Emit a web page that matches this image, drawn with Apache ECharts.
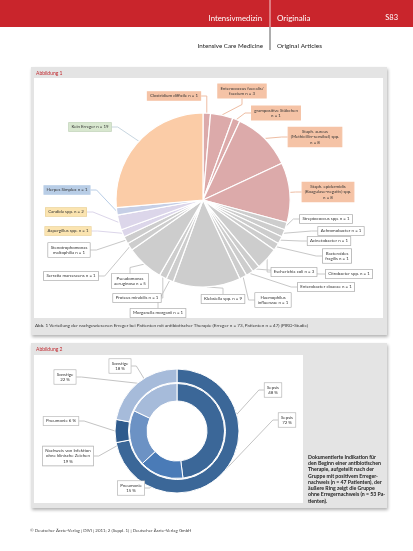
<!DOCTYPE html>
<html>
<head>
<meta charset="utf-8">
<script src="https://cdn.jsdelivr.net/npm/echarts@6/dist/echarts.min.js"></script>
<style>html,body{margin:0;padding:0;background:#fff;}#c{width:413px;height:551px;}</style>
</head>
<body>
<div id="c"></div>
<script>
// ---------- Abbildung 1: Erreger (clockwise from 12 o'clock) ----------
const pathogenNames = [
  'Clostridium difficile', 'Enterococcus faecalis/\nfaecium', 'grampositive Stäbchen\n',
  'Staph. aureus\n(Methicillin-sensibel) spp.\n', 'Staph. epidermidis\n(Koagulase-negativ) spp.\n',
  'Streptococcus spp.', 'Achromobacter', 'Acinetobacter', 'Bacteroides\nfragilis',
  'Escherichia coli', 'Citrobacter spp.', 'Enterobacter cloacae', 'Haemophilus\ninfluenzae',
  'Klebsiella spp.', 'Morganella morganii', 'Proteus mirabilis', 'Pseudomonas\naeruginosa',
  'Serratia marcescens', 'Stenotrophomonas\nmaltophilia',
  'Aspergillus spp.', 'Candida spp.', 'Herpes Simplex', 'Kein Erreger'
];
const pathogenCounts = [1, 3, 1, 8, 8, 1, 1, 1, 1, 3, 1, 1, 1, 9, 1, 1, 5, 1, 1, 1, 2, 1, 19];
const pathogenGroups = ['gp','gp','gp','gp','gp','gn','gn','gn','gn','gn','gn','gn','gn','gn','gn','gn','gn','gn','gn','fu','fu','vi','ne'];
const caption1 = 'Abb. 1 Verteilung der nachgewiesenen Erreger bei Patienten mit antibiotischer Therapie (Erreger n = 73, Patienten n = 47) (PIRO-Studie)';

// ---------- Abbildung 2: Indikationen ----------
const innerNames = ['Sepsis', 'Pneumonie', 'Nachweis von Infektion\nohne klinische Zeichen', 'Sonstige'];
const innerPercents = [48, 15, 19, 18];
const outerNames = ['Sepsis', 'Pneumonie', 'Sonstige'];
const outerPercents = [72, 6, 22];
const note2 = ['Dokumentierte Indikation für', 'den Beginn einer antibiotischen', 'Therapie, aufgeteilt nach der',
  'Gruppe mit positivem Erreger-', 'nachweis (n = 47 Patienten), der', 'äußere Ring zeigt die Gruppe',
  'ohne Erregernachweis (n = 53 Pa-', 'tienten).'];

// ---------- styles / positions ----------
const groupStyle = {
  gp: {fill:'#dcaaaa', box:'#f5c3a6', border:'#f5c3a6', line:'#eebda3'},
  gn: {fill:'#cdcdcd', box:'#ffffff', border:'#9a9a9a', line:'#c8c8c8'},
  fu: {fill:'#dcd6ea', box:'#fbe4b0', border:'#e8cf95', line:'#dcd6ea'},
  vi: {fill:'#c6cfe6', box:'#b8cde6', border:'#b8cde6', line:'#b8cde6'},
  ne: {fill:'#fbcca7', box:'#d8e7cf', border:'#b9cdb0', line:'#c8d6e0'}
};
const labelPos1 = [[174,96],[242,91],[276,113],[315,137],[328,192],[326,219],[341,231],[329,241],[337,256],
  [294,272],[349,274],[326,287],[273,300],[223,299],[158,313],[137,298],[130,281],[71,276],[69,250],
  [68,231],[66,212],[67,190],[90,127]];
const labelPosInner = [[273,390],[131,488],[68,456],[120,366]];
const labelPosOuter = [[287,420],[61,421],[65,377]];
const innerColors = ['#3b6798', '#4a7bb7', '#6c92c4', '#a6bbda'];
const outerColors = ['#3b6798', '#2f5b8d', '#a6bbda'];

const pieData1 = pathogenNames.map((n, i) => {
  const g = groupStyle[pathogenGroups[i]];
  return {
    name: n, value: pathogenCounts[i],
    itemStyle: {color: g.fill},
    label: {backgroundColor: g.box, borderColor: g.border},
    labelLine: {lineStyle: {color: g.line}}
  };
});

const chart = echarts.init(document.getElementById('c'), null, {renderer:'canvas', width:413, height:551});
const F = 'Lato, "Open Sans", sans-serif';

function txt(x, y, s, size, color, align, weight) {
  return {type:'text', x:x, y:y, z:5, style:{text:s, fontSize:size, fill:color, fontFamily:F,
    align:align||'left', verticalAlign:'middle', fontWeight:weight||'normal'}};
}
const graphics = [
  {type:'rect', shape:{x:0,y:0,width:413,height:27}, style:{fill:'#c9252c'}, z:1},
  txt(262, 18, 'Intensivmedizin', 7.8, '#fff', 'right'),
  txt(277, 18, 'Originalia', 8, '#fff'),
  txt(398, 18, 'S83', 7.5, '#fff', 'right'),
  {type:'line', shape:{x1:270,y1:0,x2:270,y2:27}, style:{stroke:'#fff', lineWidth:0.8}, z:3},
  {type:'line', shape:{x1:270,y1:27,x2:270,y2:50}, style:{stroke:'#333', lineWidth:0.8}, z:3},
  txt(263, 46, 'Intensive Care Medicine', 6.2, '#222', 'right'),
  txt(277, 46, 'Original Articles', 6.4, '#222'),
  // panel 1
  {type:'rect', shape:{x:31,y:67,width:356,height:268}, z:0,
    style:{fill:'#e4e4e4', shadowBlur:3, shadowColor:'rgba(0,0,0,0.3)', shadowOffsetX:1, shadowOffsetY:2}},
  {type:'rect', shape:{x:34,y:78,width:349,height:240}, style:{fill:'#fff'}, z:1},
  txt(36, 73, 'Abbildung 1', 5, '#c0272d'),
  txt(35, 326, caption1, 4.6, '#333'),
  // panel 2
  {type:'rect', shape:{x:31,y:343,width:356,height:165}, z:0,
    style:{fill:'#e4e4e4', shadowBlur:3, shadowColor:'rgba(0,0,0,0.3)', shadowOffsetX:1, shadowOffsetY:2}},
  {type:'rect', shape:{x:34,y:355,width:269,height:148}, style:{fill:'#fff'}, z:1},
  txt(36, 349, 'Abbildung 2', 5, '#c0272d'),
  txt(30, 531, '© Deutscher Ärzte-Verlag | DIVI | 2011; 2 (Suppl. 1) | Deutscher Ärzte-Verlag GmbH', 4.4, '#444')
];
note2.forEach((l, i) => graphics.push(txt(308, 457 + i * 6.3, l, 5.2, '#222', 'left', 'bold')));

const boxLabel = {show:true, position:'outside', fontSize:4.4, lineHeight:5.4, color:'#333', fontFamily:F,
  padding:[1.5,2.5], borderWidth:0.6, align:'center'};

chart.setOption({
  animation:false,
  graphic: graphics,
  series: [
    {
      type:'pie', center:[203,200], radius:[0,87], startAngle:90, clockwise:true,
      avoidLabelOverlap:false, z:3,
      itemStyle:{borderColor:'#fff', borderWidth:1.2},
      label: Object.assign({}, boxLabel, {
        formatter: p => p.name + (p.name.endsWith('\n') ? '' : ' ') + 'n = ' + p.value
      }),
      labelLine:{show:true, length:6, length2:6, lineStyle:{width:1}},
      labelLayout: p => ({x:labelPos1[p.dataIndex][0], y:labelPos1[p.dataIndex][1], align:'center', verticalAlign:'middle'}),
      emphasis:{disabled:true},
      data: pieData1
    },
    {
      type:'pie', center:[177,431], radius:[30,47.5], startAngle:90, clockwise:true,
      avoidLabelOverlap:false, z:3,
      itemStyle:{borderColor:'#fff', borderWidth:1},
      label: Object.assign({}, boxLabel, {backgroundColor:'#fff', borderColor:'#aaa',
        formatter: p => p.name + '\n' + p.value + ' %'}),
      labelLine:{show:true, length:5, length2:5, lineStyle:{width:1, color:'#c4c4c4'}},
      labelLayout: p => ({x:labelPosInner[p.dataIndex][0], y:labelPosInner[p.dataIndex][1], align:'center', verticalAlign:'middle'}),
      emphasis:{disabled:true},
      data: innerNames.map((n, i) => ({name:n, value:innerPercents[i], itemStyle:{color:innerColors[i]}}))
    },
    {
      type:'pie', center:[177,431], radius:[48.5,62], startAngle:90, clockwise:true,
      avoidLabelOverlap:false, z:3,
      itemStyle:{borderColor:'#fff', borderWidth:1},
      label: Object.assign({}, boxLabel, {backgroundColor:'#fff', borderColor:'#aaa',
        formatter: p => p.name + (p.name === 'Pneumonie' ? ' ' : '\n') + p.value + ' %'}),
      labelLine:{show:true, length:5, length2:5, lineStyle:{width:1, color:'#c4c4c4'}},
      labelLayout: p => ({x:labelPosOuter[p.dataIndex][0], y:labelPosOuter[p.dataIndex][1], align:'center', verticalAlign:'middle'}),
      emphasis:{disabled:true},
      data: outerNames.map((n, i) => ({name:n, value:outerPercents[i], itemStyle:{color:outerColors[i]}}))
    }
  ]
});
</script>
</body>
</html>
